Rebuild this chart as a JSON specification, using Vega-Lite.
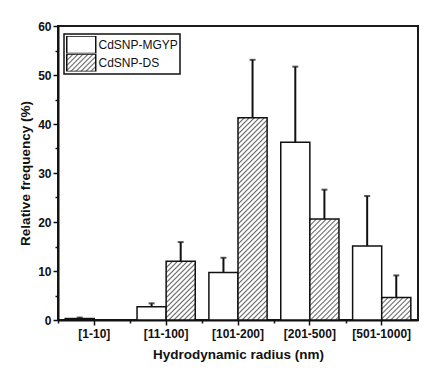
{
  "$schema": "https://vega.github.io/schema/vega-lite/v6.json",
  "width": 360,
  "height": 294,
  "autosize": {"type": "none"},
  "padding": {"left": 58, "top": 26, "right": 23, "bottom": 61},
  "background": "white",
  "params": [
    {"name": "hatch", "value": [
      {"offset":0,"color":"#fff"},{"offset":0.006,"color":"#666"},{"offset":0.012,"color":"#fff"},
      {"offset":0.02,"color":"#fff"},{"offset":0.026,"color":"#666"},{"offset":0.032,"color":"#fff"},
      {"offset":0.04,"color":"#fff"},{"offset":0.046,"color":"#666"},{"offset":0.052,"color":"#fff"},
      {"offset":0.06,"color":"#fff"},{"offset":0.066,"color":"#666"},{"offset":0.072,"color":"#fff"},
      {"offset":0.08,"color":"#fff"},{"offset":0.086,"color":"#666"},{"offset":0.092,"color":"#fff"},
      {"offset":0.1,"color":"#fff"},{"offset":0.106,"color":"#666"},{"offset":0.112,"color":"#fff"},
      {"offset":0.12,"color":"#fff"},{"offset":0.126,"color":"#666"},{"offset":0.132,"color":"#fff"},
      {"offset":0.14,"color":"#fff"},{"offset":0.146,"color":"#666"},{"offset":0.152,"color":"#fff"},
      {"offset":0.16,"color":"#fff"},{"offset":0.166,"color":"#666"},{"offset":0.172,"color":"#fff"},
      {"offset":0.18,"color":"#fff"},{"offset":0.186,"color":"#666"},{"offset":0.192,"color":"#fff"},
      {"offset":0.2,"color":"#fff"},{"offset":0.206,"color":"#666"},{"offset":0.212,"color":"#fff"},
      {"offset":0.22,"color":"#fff"},{"offset":0.226,"color":"#666"},{"offset":0.232,"color":"#fff"},
      {"offset":0.24,"color":"#fff"},{"offset":0.246,"color":"#666"},{"offset":0.252,"color":"#fff"},
      {"offset":0.26,"color":"#fff"},{"offset":0.266,"color":"#666"},{"offset":0.272,"color":"#fff"},
      {"offset":0.28,"color":"#fff"},{"offset":0.286,"color":"#666"},{"offset":0.292,"color":"#fff"},
      {"offset":0.3,"color":"#fff"},{"offset":0.306,"color":"#666"},{"offset":0.312,"color":"#fff"},
      {"offset":0.32,"color":"#fff"},{"offset":0.326,"color":"#666"},{"offset":0.332,"color":"#fff"},
      {"offset":0.34,"color":"#fff"},{"offset":0.346,"color":"#666"},{"offset":0.352,"color":"#fff"},
      {"offset":0.36,"color":"#fff"},{"offset":0.366,"color":"#666"},{"offset":0.372,"color":"#fff"},
      {"offset":0.38,"color":"#fff"},{"offset":0.386,"color":"#666"},{"offset":0.392,"color":"#fff"},
      {"offset":0.4,"color":"#fff"},{"offset":0.406,"color":"#666"},{"offset":0.412,"color":"#fff"},
      {"offset":0.42,"color":"#fff"},{"offset":0.426,"color":"#666"},{"offset":0.432,"color":"#fff"},
      {"offset":0.44,"color":"#fff"},{"offset":0.446,"color":"#666"},{"offset":0.452,"color":"#fff"},
      {"offset":0.46,"color":"#fff"},{"offset":0.466,"color":"#666"},{"offset":0.472,"color":"#fff"},
      {"offset":0.48,"color":"#fff"},{"offset":0.486,"color":"#666"},{"offset":0.492,"color":"#fff"},
      {"offset":0.5,"color":"#fff"},{"offset":0.506,"color":"#666"},{"offset":0.512,"color":"#fff"},
      {"offset":0.52,"color":"#fff"},{"offset":0.526,"color":"#666"},{"offset":0.532,"color":"#fff"},
      {"offset":0.54,"color":"#fff"},{"offset":0.546,"color":"#666"},{"offset":0.552,"color":"#fff"},
      {"offset":0.56,"color":"#fff"},{"offset":0.566,"color":"#666"},{"offset":0.572,"color":"#fff"},
      {"offset":0.58,"color":"#fff"},{"offset":0.586,"color":"#666"},{"offset":0.592,"color":"#fff"},
      {"offset":0.6,"color":"#fff"},{"offset":0.606,"color":"#666"},{"offset":0.612,"color":"#fff"},
      {"offset":0.62,"color":"#fff"},{"offset":0.626,"color":"#666"},{"offset":0.632,"color":"#fff"},
      {"offset":0.64,"color":"#fff"},{"offset":0.646,"color":"#666"},{"offset":0.652,"color":"#fff"},
      {"offset":0.66,"color":"#fff"},{"offset":0.666,"color":"#666"},{"offset":0.672,"color":"#fff"},
      {"offset":0.68,"color":"#fff"},{"offset":0.686,"color":"#666"},{"offset":0.692,"color":"#fff"},
      {"offset":0.7,"color":"#fff"},{"offset":0.706,"color":"#666"},{"offset":0.712,"color":"#fff"},
      {"offset":0.72,"color":"#fff"},{"offset":0.726,"color":"#666"},{"offset":0.732,"color":"#fff"},
      {"offset":0.74,"color":"#fff"},{"offset":0.746,"color":"#666"},{"offset":0.752,"color":"#fff"},
      {"offset":0.76,"color":"#fff"},{"offset":0.766,"color":"#666"},{"offset":0.772,"color":"#fff"},
      {"offset":0.78,"color":"#fff"},{"offset":0.786,"color":"#666"},{"offset":0.792,"color":"#fff"},
      {"offset":0.8,"color":"#fff"},{"offset":0.806,"color":"#666"},{"offset":0.812,"color":"#fff"},
      {"offset":0.82,"color":"#fff"},{"offset":0.826,"color":"#666"},{"offset":0.832,"color":"#fff"},
      {"offset":0.84,"color":"#fff"},{"offset":0.846,"color":"#666"},{"offset":0.852,"color":"#fff"},
      {"offset":0.86,"color":"#fff"},{"offset":0.866,"color":"#666"},{"offset":0.872,"color":"#fff"},
      {"offset":0.88,"color":"#fff"},{"offset":0.886,"color":"#666"},{"offset":0.892,"color":"#fff"},
      {"offset":0.9,"color":"#fff"},{"offset":0.906,"color":"#666"},{"offset":0.912,"color":"#fff"},
      {"offset":0.92,"color":"#fff"},{"offset":0.926,"color":"#666"},{"offset":0.932,"color":"#fff"},
      {"offset":0.94,"color":"#fff"},{"offset":0.946,"color":"#666"},{"offset":0.952,"color":"#fff"},
      {"offset":0.96,"color":"#fff"},{"offset":0.966,"color":"#666"},{"offset":0.972,"color":"#fff"},
      {"offset":0.98,"color":"#fff"},{"offset":0.986,"color":"#666"},{"offset":0.992,"color":"#fff"},
      {"offset":1,"color":"#fff"}
    ]}
  ],
  "data": {"values": [
    {"cat": "[1-10]", "series": "CdSNP-MGYP", "freq": 0.3, "high": 0.5},
    {"cat": "[11-100]", "series": "CdSNP-MGYP", "freq": 2.7, "high": 3.4},
    {"cat": "[11-100]", "series": "CdSNP-DS", "freq": 12.0, "high": 15.9},
    {"cat": "[101-200]", "series": "CdSNP-MGYP", "freq": 9.7, "high": 12.7},
    {"cat": "[101-200]", "series": "CdSNP-DS", "freq": 41.3, "high": 53.1},
    {"cat": "[201-500]", "series": "CdSNP-MGYP", "freq": 36.3, "high": 51.7},
    {"cat": "[201-500]", "series": "CdSNP-DS", "freq": 20.6, "high": 26.6},
    {"cat": "[501-1000]", "series": "CdSNP-MGYP", "freq": 15.1, "high": 25.3},
    {"cat": "[501-1000]", "series": "CdSNP-DS", "freq": 4.6, "high": 9.1}
  ]},
  "config": {
    "font": "Liberation Sans",
    "view": {"stroke": "#1a1a1a", "strokeWidth": 2},
    "legend": {"strokeColor": "#111", "strokeWidth": 1.5},
    "axis": {
      "grid": false,
      "domainColor": "#111",
      "domainWidth": 2,
      "tickColor": "#111",
      "tickWidth": 1.5,
      "labelFont": "Liberation Sans",
      "labelFontWeight": "bold",
      "labelFontSize": 12,
      "labelColor": "#111",
      "titleFont": "Liberation Sans",
      "titleFontWeight": "bold",
      "titleFontSize": 13.5,
      "titleColor": "#111"
    }
  },
  "resolve": {"axis": {"x": "independent", "y": "independent"}},
  "layer": [
    {
      "mark": {"type": "bar", "opacity": 0},
      "encoding": {
        "x": {
          "field": "cat", "type": "nominal",
          "sort": ["[1-10]", "[11-100]", "[101-200]", "[201-500]", "[501-1000]"],
          "axis": null
        },
        "xOffset": {"field": "series", "type": "nominal", "sort": ["CdSNP-MGYP", "CdSNP-DS"]},
        "y": {"field": "freq", "type": "quantitative", "axis": null},
        "fill": {
          "field": "series", "type": "nominal",
          "sort": ["CdSNP-MGYP", "CdSNP-DS"],
          "scale": {"range": [{"expr": "'white'"}, {"expr": "{gradient: 'linear', x1: 0, y1: 0, x2: 6.32, y2: 3.81, stops: hatch}"}]},
          "legend": {
            "title": null,
            "orient": "none",
            "legendX": 6,
            "legendY": 8,
            "padding": 2,
            "rowPadding": 0,
            "clipHeight": 17.5,
            "strokeColor": "#111",
            "fillColor": "white",
            "symbolType": "M-1,-1H2.314V1H-1Z",
            "symbolSize": 306.25,
            "symbolOpacity": 1,
            "symbolStrokeColor": "#111",
            "symbolStrokeWidth": 1.5,
            "labelOffset": 13.5,
            "labelFont": "Liberation Sans",
            "labelFontSize": 12,
            "labelColor": "#111",
            "labelLimit": 300
          }
        }
      }
    },
    {
      "mark": {
        "type": "bar",
        "stroke": "#111",
        "strokeWidth": 1.5,
        "fill": {"expr": "datum.series === 'CdSNP-DS' ? {gradient: 'linear', x1: 0, y1: 0, x2: 250*29.1/(29.1*29.1 + pow(datum.freq*4.9, 2)), y2: 250*datum.freq*4.9/(29.1*29.1 + pow(datum.freq*4.9, 2)), stops: hatch} : 'white'"}
      },
      "encoding": {
        "x": {
          "field": "cat", "type": "nominal",
          "sort": ["[1-10]", "[11-100]", "[101-200]", "[201-500]", "[501-1000]"],
          "scale": {"paddingInner": 0.19, "paddingOuter": 0.1},
          "axis": {"orient": "bottom", "title": "Hydrodynamic radius (nm)", "labelAngle": 0, "tickSize": 5, "labelPadding": 3, "titlePadding": 8}
        },
        "xOffset": {"field": "series", "type": "nominal", "sort": ["CdSNP-MGYP", "CdSNP-DS"]},
        "y": {
          "field": "freq", "type": "quantitative",
          "scale": {"domain": [0, 60], "nice": false},
          "axis": {"orient": "left", "values": [0, 10, 20, 30, 40, 50, 60], "title": "Relative frequency (%)", "tickSize": 5, "labelPadding": 2, "titlePadding": 5}
        }
      }
    },
    {
      "mark": {"type": "rule", "color": "#111", "strokeWidth": 2},
      "encoding": {
        "x": {
          "field": "cat", "type": "nominal",
          "sort": ["[1-10]", "[11-100]", "[101-200]", "[201-500]", "[501-1000]"],
          "axis": {"orient": "bottom", "title": null, "labels": false, "domain": false, "tickSize": 3, "bandPosition": 0, "tickOffset": -6.8, "tickExtra": false}
        },
        "xOffset": {"field": "series", "type": "nominal", "sort": ["CdSNP-MGYP", "CdSNP-DS"]},
        "y": {
          "field": "freq", "type": "quantitative",
          "axis": {"orient": "left", "values": [5, 15, 25, 35, 45, 55], "title": null, "labels": false, "domain": false, "tickSize": 3}
        },
        "y2": {"field": "high"}
      }
    },
    {
      "mark": {"type": "tick", "color": "#111", "thickness": 2, "size": 6},
      "encoding": {
        "x": {
          "field": "cat", "type": "nominal",
          "sort": ["[1-10]", "[11-100]", "[101-200]", "[201-500]", "[501-1000]"],
          "axis": null
        },
        "xOffset": {"field": "series", "type": "nominal", "sort": ["CdSNP-MGYP", "CdSNP-DS"]},
        "y": {"field": "high", "type": "quantitative", "axis": null}
      }
    }
  ]
}
